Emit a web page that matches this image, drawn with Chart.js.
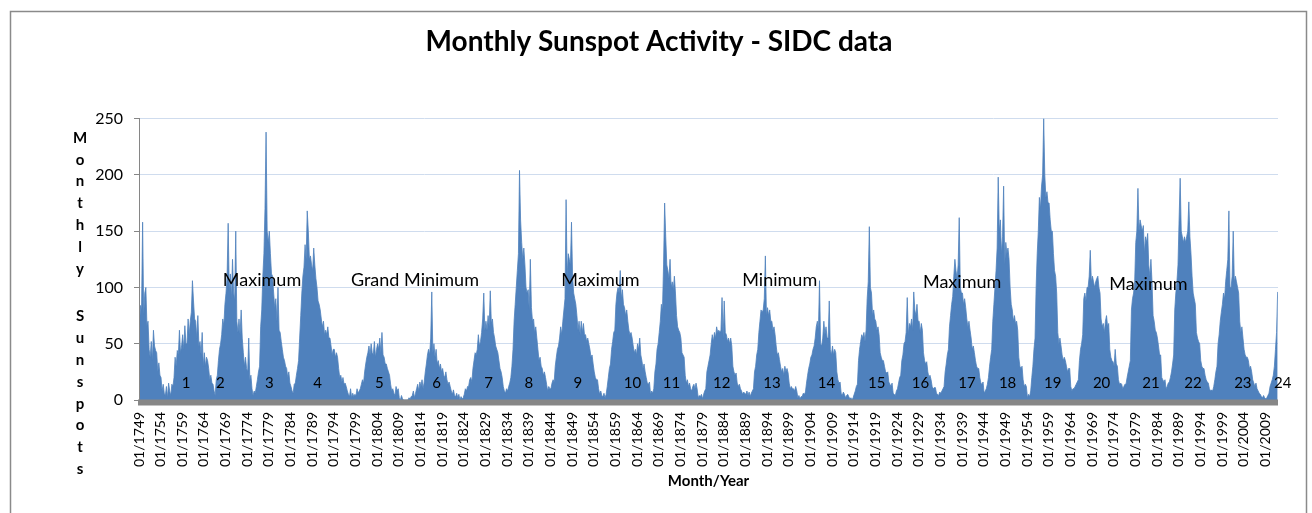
<!DOCTYPE html>
<html><head><meta charset="utf-8">
<script src="https://cdn.jsdelivr.net/npm/chart.js@4.4.0/dist/chart.umd.min.js"></script>
<style>html,body{margin:0;padding:0;background:#fff;} #wrap{position:relative;width:1312px;height:513px;}</style>
</head><body><div id="wrap"><canvas id="c"></canvas></div>
<script>
// Monthly sunspot numbers, 4 samples per year (one per quarter)
const startYear = 1749;
const spots1749to1799 = [
 62,84,80,158, 76,95,100,66, 70,45,38,52, 35,62,48,44, 42,25,33,22,
 20,8,14,6, 4,12,2,15, 8,4,14,12, 20,38,30,44, 40,62,42,48,
 58,45,66,50, 50,72,58,70, 78,106,88,72, 70,55,75,48, 52,40,60,30,
 42,30,38,35, 28,18,22,15, 14,8,4,18, 22,35,45,50, 58,72,66,85,
 95,110,157,96, 112,90,125,96, 88,150,70,60, 72,58,80,55, 42,30,38,28,
 25,55,18,22, 10,4,8,6, 12,18,25,30, 65,80,110,130, 170,238,150,140,
 150,130,112,110, 95,82,90,70, 100,62,60,52, 45,38,35,30, 28,20,25,15,
 12,8,6,14, 15,22,28,35, 55,75,95,110, 118,138,125,168, 150,125,128,120,
 115,135,120,108, 100,88,85,80, 72,65,70,58, 62,58,65,55, 55,48,40,45,
 45,38,42,38, 28,20,22,16, 20,14,15,12, 8,5,3,10, 2,6,3,5,
 4,10,6,8
];
const spots1800to1849 = [
 10,14,18,15, 25,32,38,42, 48,40,50,42, 40,52,38,45, 50,45,55,42,
 60,40,38,32, 32,28,25,22, 14,8,10,6, 4,12,8,10, 2,0,4,1,
 0,0,0,0, 0,2,1,3, 4,8,2,6, 10,14,8,16, 12,18,10,16,
 25,32,40,45, 40,55,96,42, 50,38,45,32, 35,28,32,25, 28,22,20,25,
 18,14,16,12, 8,5,9,4, 3,6,2,5, 0,3,1,2, 5,10,8,12,
 12,18,20,16, 28,35,42,40, 45,58,48,52, 60,72,95,62, 70,62,75,65,
 97,68,72,60, 55,48,45,42, 35,28,25,20, 12,8,6,10, 8,12,15,20,
 30,45,70,85, 100,115,130,204, 160,140,125,135, 120,100,95,98, 80,125,82,70,
 72,60,65,55, 45,35,38,30, 28,22,25,20, 14,8,12,10, 10,15,18,16,
 30,38,45,48, 55,65,58,70, 80,90,178,110, 130,125,120,158, 110,95,90,85
];
const spots1850to1899 = [
 75,62,70,58, 70,60,68,58, 58,52,55,50, 45,38,40,32, 25,20,18,18,
 10,5,8,4, 3,6,2,5, 12,20,28,32, 45,52,60,62, 85,95,100,95,
 115,90,98,85, 82,75,80,70, 62,58,60,55, 48,42,45,40, 50,45,55,40,
 35,28,32,25, 20,15,14,16, 5,8,6,10, 25,32,45,50, 60,70,85,80,
 120,175,145,120, 115,108,125,100, 105,98,110,95, 75,65,62,60, 55,42,40,38,
 22,15,18,12, 15,10,8,12, 14,10,15,10, 2,4,3,5, 1,5,8,10,
 25,30,35,40, 50,58,52,60, 55,65,60,62, 60,62,91,55, 88,60,58,52,
 55,50,55,48, 30,25,22,24, 15,12,14,10, 8,5,7,6, 5,8,4,7,
 3,6,8,10, 25,30,40,45, 60,70,80,78, 80,90,128,75, 82,75,80,70,
 70,62,65,58, 48,40,42,36, 30,25,28,22, 30,25,28,24, 15,10,12,10
];
const spots1900to1949 = [
 10,8,12,8, 2,4,1,3, 3,6,5,7, 15,22,28,32, 38,40,45,48,
 55,65,70,62, 106,50,48,55, 70,58,65,55, 55,88,45,40, 48,40,45,42,
 25,18,15,16, 6,4,7,5, 2,4,5,3, 1,2,0,2, 5,8,12,14,
 35,45,52,58, 55,60,52,62, 90,105,154,100, 95,75,80,72, 70,62,65,58,
 42,38,35,35, 30,25,24,25, 16,14,12,15, 6,5,4,8, 10,15,20,22,
 35,40,50,52, 60,91,58,68, 65,72,62,96, 80,75,85,70, 70,60,68,62,
 42,35,32,34, 25,20,22,18, 12,10,11,11, 6,5,4,7, 6,8,10,12,
 25,32,40,45, 65,75,85,92, 110,125,115,108, 120,162,100,95, 95,85,90,82,
 72,65,70,62, 55,45,48,42, 35,30,28,28, 20,15,14,16, 6,8,10,14,
 20,30,38,45, 70,85,100,115, 135,198,150,160, 130,145,190,120, 140,130,135,125
];
const spots1950to2011 = [
 100,85,80,70, 75,68,70,62, 38,30,28,30, 18,12,14,12, 2,5,3,8,
 20,30,45,55, 100,130,150,180, 170,190,200,250, 200,180,185,175, 175,160,150,150,
 130,115,110,95, 60,50,55,48, 40,35,38,35, 30,25,28,28, 12,8,10,10,
 12,14,16,18, 35,45,50,58, 90,95,88,100, 100,110,133,105, 110,105,100,105,
 108,110,100,95, 72,65,68,60, 70,75,65,68, 45,38,35,34, 30,45,32,30,
 18,14,15,14, 10,12,14,14, 20,25,30,35, 80,90,95,105, 140,150,188,150,
 160,155,150,155, 130,145,140,148, 120,110,125,105, 75,70,62,60, 55,48,40,40,
 20,18,16,18, 10,12,15,16, 20,25,32,40, 80,95,105,120, 160,197,150,145,
 140,145,140,145, 150,176,145,130, 110,95,90,85, 60,55,52,50, 35,30,28,28,
 22,18,16,15, 10,8,9,8, 12,18,25,30, 50,58,70,78, 85,95,90,105,
 115,125,168,100, 100,110,150,105, 110,105,100,95, 70,60,65,55, 45,40,38,38,
 35,28,30,25, 18,15,12,15, 10,8,6,5, 3,2,4,2, 1,2,4,6,
 12,15,18,22, 30,45,60,96
];
const lastMonthIndex = 3155;           // 12/2011
const tickEveryYears = 5;

const cycleNumbers = ['1','2','3','4','5','6','7','8','9','10','11','12','13','14','15','16','17','18','19','20','21','22','23','24'];
const cycleLabelYears = [1759.9,1767.8,1779.1,1790.2,1804.5,1817.7,1829.7,1839.0,1850.3,1862.9,1871.9,1883.5,1895.1,1907.7,1919.3,1929.4,1940.1,1949.5,1959.9,1971.2,1982.6,1992.3,2003.8,2013.0];
const cycleLabelValue = 15;
const noteTexts = ['Maximum','Grand Minimum','Maximum','Minimum','Maximum','Maximum'];
const noteYears = [1777.4,1812.7,1855.5,1896.9,1939.0,1982.0];
const noteValues = [106,106,106,106,105,103];

const chartTitle = 'Monthly Sunspot Activity - SIDC data';
const yTitle = 'Monthly Sunspots';
const xTitle = 'Month/Year';

const allSpots = [].concat(spots1749to1799, spots1800to1849, spots1850to1899, spots1900to1949, spots1950to2011);
const points = allSpots.map((v, i) => ({x: i * 3 + 1, y: v}));
const yearToIndex = y => (y - startYear) * 12;

const FONT = 'Lato';

const overlay = {
  id: 'overlay',
  beforeDraw(chart) {
    const ctx = chart.ctx;
    ctx.save();
    ctx.strokeStyle = '#8a8a8a';
    ctx.lineWidth = 1.5;
    ctx.strokeRect(10.5, 11.5, 1296, 600);
    ctx.restore();
  },
  afterDatasetsDraw(chart) {
    const ctx = chart.ctx, a = chart.chartArea;
    const xs = chart.scales.x, ys = chart.scales.y;
    ctx.save();
    ctx.fillStyle = '#878787';
    ctx.fillRect(a.left - 1, a.bottom - 0.5, a.right - a.left + 1, 6);
    ctx.fillStyle = '#000';
    ctx.textAlign = 'center';
    ctx.textBaseline = 'middle';
    ctx.font = '15px ' + FONT;
    cycleNumbers.forEach((t, i) => {
      ctx.fillText(t, xs.getPixelForValue(yearToIndex(cycleLabelYears[i])), ys.getPixelForValue(cycleLabelValue));
    });
    ctx.font = '18px ' + FONT;
    noteTexts.forEach((t, i) => {
      ctx.fillText(t, xs.getPixelForValue(yearToIndex(noteYears[i])), ys.getPixelForValue(noteValues[i]));
    });
    ctx.font = 'bold 15px ' + FONT;
    let y = 138;
    for (const ch of yTitle) {
      if (ch !== ' ') ctx.fillText(ch, 80, y);
      y += ch === ' ' ? 26 : 21.8;
    }
    ctx.restore();
  }
};

new Chart(document.getElementById('c'), {
  type: 'line',
  data: {
    datasets: [{
      data: points,
      fill: 'origin',
      backgroundColor: '#4F81BD',
      borderColor: '#4F81BD',
      borderWidth: 0.8,
      pointRadius: 0,
      tension: 0
    }]
  },
  plugins: [overlay],
  options: {
    responsive: true,
    maintainAspectRatio: false,
    animation: false,
    events: [],
    layout: { padding: { left: 40, right: 34, top: 0, bottom: 0 } },
    plugins: {
      legend: { display: false },
      tooltip: { enabled: false },
      title: {
        display: true,
        text: chartTitle,
        color: '#000',
        font: { family: FONT, size: 28, weight: 'bold' },
        padding: { top: 25, bottom: 60 }
      }
    },
    scales: {
      x: {
        type: 'linear',
        min: 0,
        max: lastMonthIndex,
        afterFit(s) { s.height = 113; },
        grid: { display: false, drawTicks: false },
        border: { display: false },
        ticks: {
          stepSize: tickEveryYears * 12,
          includeBounds: false,
          autoSkip: false,
          minRotation: 90,
          maxRotation: 90,
          padding: 12,
          color: '#000',
          font: { family: FONT, size: 14 },
          callback: v => '01/' + (startYear + Math.round(v / 12))
        },
        title: {
          display: true,
          text: xTitle,
          color: '#000',
          font: { family: FONT, size: 15, weight: 'bold' },
          padding: { top: 0, bottom: 23 }
        }
      },
      y: {
        min: 0,
        max: 250,
        afterFit(s) { s.width = 99; },
        grid: { color: '#cfdcee', tickColor: '#868686', tickLength: 5, drawTicks: true },
        border: { display: true, color: '#868686', width: 1, z: 1 },
        ticks: {
          stepSize: 50,
          padding: 11,
          color: '#000',
          font: { family: FONT, size: 16 }
        }
      }
    }
  }
});
</script>
</body></html>
